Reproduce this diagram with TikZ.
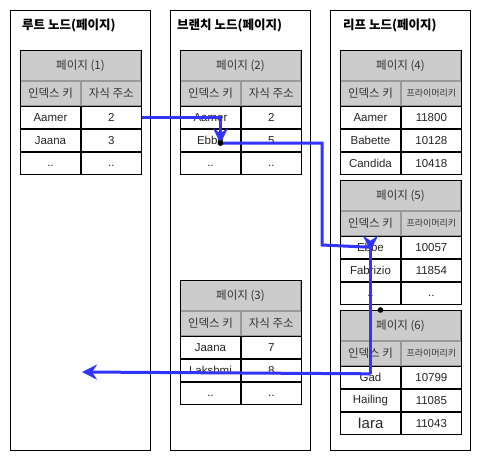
\documentclass[tikz,border=0pt]{standalone}
\usepackage{fontspec}
\setmainfont{Liberation Sans}
\newfontfamily\krfont{Noto Sans CJK KR}
\usetikzlibrary{arrows.meta, positioning, calc}
\definecolor{linkblue}{HTML}{3333FF}
\definecolor{headfill}{HTML}{CCCCCC}
\definecolor{headline}{HTML}{999999}
\definecolor{inktext}{HTML}{333333}
\newcommand{\cellsize}{\fontsize{11.5}{13}\selectfont}
\tikzset{
  column/.style={draw=black, line width=0.9pt, minimum width=140pt,
    minimum height=440pt, anchor=north west, inner sep=0pt},
  coltitle/.style={anchor=west, inner sep=0pt,
    font=\krfont\bfseries\fontsize{12.5}{14}\selectfont},
  headcell/.style={draw=headline, fill=headfill, line width=0.9pt,
    minimum width=120pt, minimum height=30pt, inner sep=0pt,
    anchor=north west, font=\krfont\cellsize, text=inktext},
  subcell/.style={draw=headline, fill=headfill, line width=0.9pt,
    minimum width=60pt, minimum height=24pt, inner sep=0pt,
    anchor=north west, font=\krfont\cellsize, text=inktext},
  datacell/.style={draw=black, fill=white, line width=0.9pt,
    minimum width=60pt, minimum height=22pt, inner sep=0pt,
    anchor=north west, font=\cellsize, text=black!85},
  linkline/.style={draw=linkblue, line width=3pt},
  link/.style={linkline, -{Stealth[length=15pt, width=15pt, inset=5pt]}},
}
\newcommand{\pagehead}[5]{%
  \node[headcell] (#1) at (#2,#3) {페이지 (#4)};
  \node[subcell] (#1k) at (#1.south west) {인덱스 키};
  \node[subcell] (#1v) at (#1k.north east) {#5};}
\newcommand{\pagerow}[4]{%
  \node[datacell] (#1a) at (#2.south west) {#3};
  \node[datacell] (#1b) at (#1a.north east) {#4};}
\newcommand{\pageframe}[2]{%
  \draw[line width=0.9pt] (#1.north west) rectangle (#2.south east);}
\newcommand{\pkey}{{\fontsize{9}{10}\selectfont 프라이머리키}}
\newcommand{\more}{\raisebox{-6pt}{..}}

\begin{document}
\begin{tikzpicture}[x=1pt, y=-1pt]
  \useasboundingbox (0,0) rectangle (481,461);
  \node[column] (root) at (10,10) {};
  \node[column] (branch) at (170,10) {};
  \node[column] (leaf) at (330,10) {};
  \node[coltitle] (roottitle) at ($(root.north west)+(12,15)$) {루트 노드(페이지)};
  \node[coltitle] (branchtitle) at ($(branch.north west)+(7,15)$) {브랜치 노드(페이지)};
  \node[coltitle] (leaftitle) at ($(leaf.north west)+(13,15)$) {리프 노드(페이지)};

  % root page
  \pagehead{t1}{20}{50}{1}{자식 주소}
  \pagerow{t1r1}{t1k}{Aamer}{2}
  \pagerow{t1r2}{t1r1a}{Jaana}{3}
  \pagerow{t1r3}{t1r2a}{\more}{\more}
  \pageframe{t1}{t1r3b}

  % branch pages
  \pagehead{t2}{180}{50}{2}{자식 주소}
  \pagerow{t2r1}{t2k}{Aamer}{2}
  \pagerow{t2r2}{t2r1a}{Ebbe}{5}
  \pagerow{t2r3}{t2r2a}{\more}{\more}
  \pageframe{t2}{t2r3b}

  \pagehead{t3}{180}{280}{3}{자식 주소}
  \pagerow{t3r1}{t3k}{Jaana}{7}
  \pagerow{t3r2}{t3r1a}{Lakshmi}{8}
  \pagerow{t3r3}{t3r2a}{\more}{\more}
  \pageframe{t3}{t3r3b}

  % leaf pages
  \pagehead{t4}{340}{50}{4}{\pkey}
  \pagerow{t4r1}{t4k}{Aamer}{11800}
  \pagerow{t4r2}{t4r1a}{Babette}{10128}
  \pagerow{t4r3}{t4r2a}{Candida}{10418}
  \pageframe{t4}{t4r3b}

  \pagehead{t5}{340}{180}{5}{\pkey}
  \pagerow{t5r1}{t5k}{Ebbe}{10057}
  \pagerow{t5r2}{t5r1a}{Fabrizio}{11854}
  \pagerow{t5r3}{t5r2a}{\more}{\more}
  \pageframe{t5}{t5r3b}

  \pagehead{t6}{340}{310}{6}{\pkey}
  \pagerow{t6r1}{t6k}{Gad}{10799}
  \pagerow{t6r2}{t6r1a}{Hailing}{11085}
  \pagerow{t6r3}{t6r2a}{{\fontsize{15}{15}\selectfont Iara}}{11043}
  \pageframe{t6}{t6r3b}

  % search path
  \coordinate (ebbedot) at ($(t2r2a.center)+(10,3)$);
  \coordinate (bendB) at (322,245);
  \coordinate (gadtip) at ($(t6r1a.north)+(0,8)$);
  \coordinate (rootend) at (82,372);
  \coordinate (leafdot) at ($(t6.north)+(-20,0)$);
  \draw[link] (t1r1b.east) -| (ebbedot);
  \draw[linkline] (ebbedot) -| (bendB) -- (t5r1a.center);
  \draw[link] (gadtip) -- (rootend);
  \draw[link, {Stealth[length=15pt, width=15pt, inset=5pt, reversed]}-] (t5r1a.north) -- (gadtip);
  \fill (ebbedot) circle (2.8pt);
  \fill (leafdot) circle (2.8pt);
\end{tikzpicture}
\end{document}
